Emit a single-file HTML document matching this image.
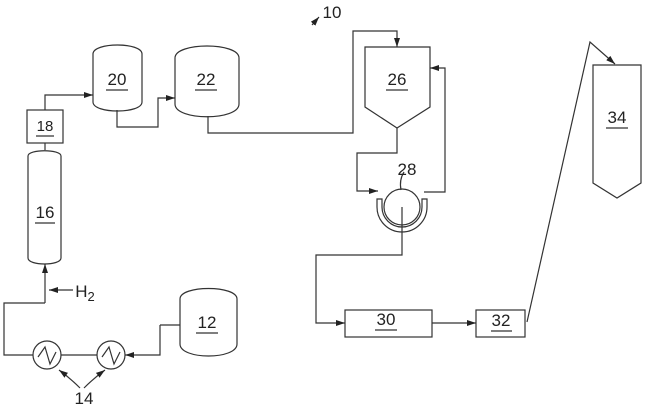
<!DOCTYPE html>
<html><head><style>body{margin:0;background:#fff}svg{display:block}text{font-family:"Liberation Sans",sans-serif;fill:#222}</style></head><body>
<svg width="646" height="409" viewBox="0 0 646 409" xmlns="http://www.w3.org/2000/svg">
<defs><marker id="a" markerWidth="10" markerHeight="8" refX="9" refY="4" orient="auto" markerUnits="userSpaceOnUse"><path d="M0,1 L9,4 L0,7z" fill="#222"/></marker></defs>
<g fill="none" stroke="#333" stroke-width="1.2">
<path d="M93,54 C93,42 142,42 142,54 V102 C142,114 93,114 93,102 Z"/>
<path d="M175,58 C175,42 239,42 239,58 V104 C239,121 175,121 175,104 Z"/>
<rect x="27" y="110" width="36" height="33"/>
<path d="M28,156 C28,149 61,149 61,156 V258 C61,266 28,266 28,258 Z"/>
<path d="M180,299 C180,285 237,285 237,299 V344 C237,360 180,360 180,344 Z"/>
<circle cx="47" cy="355" r="14"/><circle cx="111" cy="355" r="14"/>
<path d="M38,357 L45,347 L50,364 L56,352"/><path d="M102,357 L109,347 L114,364 L120,352"/>
<path d="M365,47 H430 V107 L397,128 L365,107 Z"/>
<circle cx="402" cy="207" r="18"/>
<path d="M377,199 V207 A25,25 0 0 0 427,207 V199 H422 V207 A20,20 0 0 1 382,207 V199 Z"/>
<rect x="345" y="310" width="87" height="27"/><rect x="476" y="310" width="49" height="27"/>
<path d="M593,65 H641 V183 L617,198 L593,183 Z"/>
<path d="M45,110 V95 H93" marker-end="url(#a)"/>
<path d="M117,110 V127 H158 V98 H175" marker-end="url(#a)"/>
<path d="M45,143 V150"/>
<path d="M208,116 V133 H353 V31 H397 V47" marker-end="url(#a)"/>
<path d="M397,128 V153 H357 V191 H378" marker-end="url(#a)"/>
<path d="M424,192 H445 V68 H430" marker-end="url(#a)"/>
<path d="M402,207 V255 H316 V323 H345" marker-end="url(#a)"/>
<path d="M432,323 H476" marker-end="url(#a)"/>
<path d="M527,322 L590,42 L615,64" marker-end="url(#a)"/>
<path d="M45,303 V264" marker-end="url(#a)"/>
<path d="M45,303 H4 V355 H33 M61,355 H97"/>
<path d="M160,325 H180 M160,325 V355 H125" marker-end="url(#a)"/>
<path d="M73,290 H49" marker-end="url(#a)"/>
<path d="M80,388 Q70,378 59,370" marker-end="url(#a)"/>
<path d="M84,388 Q94,378 105,370" marker-end="url(#a)"/>
<path d="M312,25 L319,17" marker-end="url(#a)"/>
<path d="M401,190 Q399,180 404,172"/>
</g>
<g font-size="17" text-anchor="middle">
<text x="117" y="85">20</text><text x="206" y="85">22</text>
<text x="45" y="131" font-size="15">18</text><text x="45" y="218">16</text>
<text x="207" y="328">12</text><text x="397" y="85">26</text>
<text x="617" y="123">34</text><text x="386" y="325">30</text><text x="501" y="326">32</text>
<text x="407" y="175">28</text><text x="84" y="404">14</text>
<text x="332" y="18">10</text>
<text x="85" y="297">H<tspan font-size="13" dy="4">2</tspan></text>
</g>
<g stroke="#333" stroke-width="1.2">
<line x1="106" y1="90" x2="128" y2="90"/><line x1="195" y1="90" x2="217" y2="90"/>
<line x1="36" y1="136" x2="54" y2="136"/><line x1="35" y1="223" x2="55" y2="223"/>
<line x1="196" y1="333" x2="218" y2="333"/><line x1="386" y1="90" x2="408" y2="90"/>
<line x1="606" y1="128" x2="628" y2="128"/><line x1="375" y1="330" x2="397" y2="330"/>
<line x1="491" y1="331" x2="512" y2="331"/>
</g>
</svg>
</body></html>
